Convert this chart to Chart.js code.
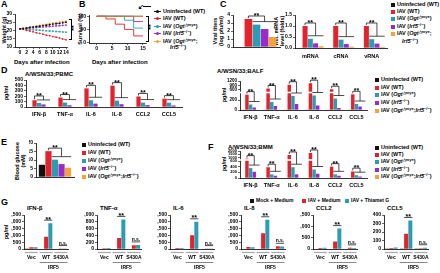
<!DOCTYPE html>
<html>
<head>
<meta charset="utf-8">
<script src="https://cdn.jsdelivr.net/npm/chart.js@4.4.1/dist/chart.umd.min.js"></script>
<style>
  body { margin: 0; width: 440px; height: 273px; position: relative; overflow: hidden; background: #fff;
         font-family: "Liberation Sans", Arial, sans-serif; font-weight: bold; color: #000; }
  .t { position: absolute; white-space: nowrap; font-size: 5.5px; line-height: 6px; }
  .p { position: absolute; font-size: 9px; line-height: 9px; }
  .h { position: absolute; white-space: nowrap; font-size: 6px; line-height: 6px; }
  .r { position: absolute; white-space: nowrap; font-size: 5.5px; line-height: 6px; text-align: center;
       transform: translate(-50%, -50%) rotate(-90deg); }
  sup { font-size: 4px; vertical-align: 2px; line-height: 0; }
  .sq { display: inline-block; width: 4px; height: 4px; margin-right: 2px; vertical-align: -0.5px; }
  .ln { display: inline-block; width: 7px; height: 0; border-top: 0.8px solid; position: relative; vertical-align: middle; margin-right: 2px; }
  .ln i { position: absolute; left: 2px; top: -2px; width: 3px; height: 3px; border-radius: 50%; }
  canvas { position: absolute; }
</style>
</head>
<body>
<script>
// series colours and names (same five groups across panels)
const COLORS = ['#111111', '#e3222b', '#2a9db3', '#9b2bc9', '#f2a33c'];
const NAMES = ['Uninfected (WT)', 'IAV (WT)', 'IAV (<i>Ogt</i><sup>△mye</sup>)', 'IAV (<i>Irf5</i><sup>−/−</sup>)',
               'IAV (<i>Ogt</i><sup>△mye</sup>;<i>Irf5</i><sup>−/−</sup>)'];

// A - body weight
const WEIGHT_DAYS = [0, 1, 2, 3, 4, 5, 6, 7, 8, 9, 10, 11, 12, 13, 14];
const WEIGHT_UNINF = [21, 21.2, 21.5, 21.9, 22.1, 22.4, 22.6, 23.0, 23.2, 23.5, 23.9, 24.1, 24.3, 24.7, 25.0];
const WEIGHT_WT = [21, 20.7, 20.1, 19.7, 19.2, 18.6, 18.3, 17.8, 17.2, 16.9, 16.3, 15.9, 15.5, 14.9, 14.4];
const WEIGHT_OGT = [21, 20.9, 20.7, 20.6, 20.4, 20.3, 20.2, 20.0, 19.8, 19.7, 19.6, 19.4, 19.3, 19.1, 19.0];
const WEIGHT_IRF5 = [21, 21.1, 21.3, 21.5, 21.6, 21.8, 22.0, 22.1, 22.3, 22.4, 22.6, 22.8, 22.9, 23.1, 23.3];
const WEIGHT_DKO = [21, 21.3, 21.7, 22.0, 22.3, 22.7, 23.1, 23.4, 23.7, 24.1, 24.4, 24.8, 25.1, 25.4, 25.7];
const WEIGHT_XTICKS = [0, 2, 4, 6, 8, 10, 12, 14];

// B - survival (event days and percent)
const SURV_UNINF_D = [0, 15], SURV_UNINF = [100, 100];
const SURV_WT_D = [0, 3, 6, 9, 12, 15], SURV_WT = [100, 90, 70, 50, 25, 25];
const SURV_OGT_D = [0, 9, 12, 15], SURV_OGT = [100, 85, 55, 55];
const SURV_IRF5_D = [0, 12, 15], SURV_IRF5 = [100, 80, 80];
const SURV_DKO_D = [0, 15], SURV_DKO = [100, 100];
const SURV_XTICKS = [0, 5, 10, 15];
const SURV_YTICKS = [0, 50, 100];

// C - viral titers and viral RNA
const VIRAL_TITER = [0, 3.5, 2.8, 2.25, 1.25];
const RNA_TYPES = ['mRNA', 'cRNA', 'vRNA'];
const RNA_UNINF = [0, 0, 0];
const RNA_WT = [1.0, 1.0, 1.0];
const RNA_OGT = [0.42, 0.38, 0.40];
const RNA_IRF5 = [0.21, 0.18, 0.20];
const RNA_DKO = [0.08, 0.06, 0.05];

// D - cytokines
const CYTOKINES = ['IFN-β', 'TNF-α', 'IL-6', 'IL-8', 'CCL2', 'CCL5'];
const PBMC_UNINF = [5, 5, 5, 5, 5, 5];
const PBMC_WT = [125, 175, 345, 395, 195, 155];
const PBMC_OGT = [75, 82, 125, 118, 82, 80];
const PBMC_IRF5 = [48, 32, 62, 52, 35, 28];
const PBMC_DKO = [5, 4, 5, 5, 4, 4];

const BALF_UNINF = [8, 8, 8, 8, 8, 8];
const BALF_WT = [320, 700, 950, 1050, 650, 340];
const BALF_OGT = [110, 160, 280, 290, 230, 120];
const BALF_IRF5 = [50, 80, 120, 90, 40, 70];
const BALF_DKO = [8, 8, 8, 8, 8, 8];
const BALF_TICKS = [0, 200, 600, 900, 1200];

// E - blood glucose
const GLUCOSE = [7.2, 15.2, 10.2, 7.6, 5.4];

// F - BMM cytokines
const BMM_UNINF = [10, 10, 10, 10, 10, 10];
const BMM_WT = [850, 380, 1400, 1700, 400, 230];
const BMM_OGT = [350, 130, 380, 300, 130, 100];
const BMM_IRF5 = [220, 80, 130, 150, 80, 50];
const BMM_DKO = [10, 10, 10, 10, 10, 10];
const BMM_TICKS = [0, 200, 400, 600, 1000, 1500, 2000];

// G - IRF5 constructs with Thiamet G
const G_GROUPS = ['Vec', 'WT', 'S430A'];
const G_TREAT = ['Mock + Medium', 'IAV + Medium', 'IAV + Thiamet G'];
const G_TITLES = ['IFN-β', 'TNF-α', 'IL-6', 'IL-8', 'CCL2', 'CCL5'];
const G_MOCK = [[30, 20, 20], [10, 10, 10], [20, 20, 20], [20, 20, 20], [10, 10, 10], [5, 5, 5]];
const G_MEDIUM = [[120, 900, 40], [25, 320, 110], [70, 1020, 30], [140, 1150, 200], [40, 330, 50], [12, 180, 10]];
const G_THIAMET = [[120, 1900, 40], [30, 870, 120], [70, 2000, 30], [120, 2150, 180], [50, 900, 40], [18, 335, 15]];
const G_MAX = [2500, 1000, 2500, 2500, 1500, 400];
const G_STEP = [500, 200, 500, 500, 500, 100];

// ---------- helpers ----------
Chart.defaults.font.family = '"Liberation Sans", Arial, sans-serif';
Chart.defaults.font.weight = 'bold';
Chart.defaults.font.size = 5.5;
Chart.defaults.color = '#000';
Chart.defaults.animation = false;
Chart.defaults.plugins.legend.display = false;
Chart.defaults.plugins.tooltip.enabled = false;

// white gap across tall bars for broken axes
Chart.register({
  id: 'brk',
  afterDatasetsDraw(chart, args, o) {
    if (!o || o.at == null) return;
    const ca = chart.chartArea, y = chart.scales.y.getPixelForValue(o.at);
    chart.ctx.save();
    chart.ctx.fillStyle = '#fff';
    chart.ctx.fillRect(ca.left - 3, y - 0.8, ca.right - ca.left + 3, 1.6);
    chart.ctx.restore();
  }
});

// significance brackets
Chart.register({
  id: 'sig',
  afterDatasetsDraw(chart, args, o) {
    if (!o || !o.groups) return;
    const ctx = chart.ctx;
    const bar = (k, i) => chart.getDatasetMeta(k).data[i];
    const seg = pts => { ctx.beginPath(); ctx.moveTo(pts[0], pts[1]); for (let j = 2; j < pts.length; j += 2) ctx.lineTo(pts[j], pts[j + 1]); ctx.stroke(); };
    ctx.save();
    ctx.strokeStyle = '#000'; ctx.fillStyle = '#000'; ctx.lineWidth = 0.7; ctx.textAlign = 'center';
    o.groups.forEach((i, n) => {
      if (o.mode === 'pair') {
        const a = bar(1, i), b = bar(2, i);
        const y = Math.min(a.y, b.y) - 3;
        seg([a.x - a.width / 2, y, b.x + b.width / 2, y]);
        const lab = o.labels[n];
        ctx.font = lab === '**' ? 'bold 7px "Liberation Sans"' : 'bold 5px "Liberation Sans"';
        ctx.fillText(lab, (a.x + b.x) / 2, lab === '**' ? y + 1.5 : y - 0.8);
      } else {
        const r = bar(1, i), t = bar(2, i), p = bar(3, i), q = bar(4, i);
        const yLow = Math.min(t.y, p.y) - 3;
        const yTop = Math.min(r.y - 3, yLow - 4);
        const xr = (t.x + q.x) / 2;
        seg([r.x, r.y - 1, r.x, yTop, xr, yTop, xr, yLow]);
        seg([t.x - t.width / 2, yLow, q.x + q.width / 2, yLow]);
        ctx.font = 'bold 7px "Liberation Sans"';
        ctx.fillText('**', (r.x + xr) / 2, yTop + 2);
      }
    });
    ctx.restore();
  }
});

// group lines and IRF5 label under panel G
Chart.register({
  id: 'irf',
  afterDraw(chart, args, o) {
    if (!o || !o.label) return;
    const xs = chart.scales.x, ca = chart.chartArea, ctx = chart.ctx;
    const step = (ca.right - ca.left) / xs.ticks.length;
    ctx.save();
    ctx.strokeStyle = '#a8a8a8'; ctx.lineWidth = 1.2;
    for (let i = 0; i < xs.ticks.length; i++) {
      const x = xs.getPixelForValue(i);
      ctx.beginPath(); ctx.moveTo(x - step * 0.44, ca.bottom + 3.5); ctx.lineTo(x + step * 0.44, ca.bottom + 3.5); ctx.stroke();
    }
    const x1 = xs.getPixelForValue(1), x2 = xs.getPixelForValue(2);
    ctx.strokeStyle = '#555'; ctx.lineWidth = 0.7;
    ctx.beginPath(); ctx.moveTo(x1 - step * 0.44, ca.bottom + 13.5); ctx.lineTo(x2 + step * 0.44, ca.bottom + 13.5); ctx.stroke();
    ctx.fillStyle = '#000'; ctx.font = 'bold 5px "Liberation Sans"'; ctx.textAlign = 'center'; ctx.textBaseline = 'top';
    ctx.fillText(o.label, (x1 + x2) / 2, ca.bottom + 16);
    ctx.restore();
  }
});

function addDiv(html, x, y, cls) {
  const d = document.createElement('div');
  d.className = cls; d.innerHTML = html;
  d.style.left = x + 'px'; d.style.top = y + 'px';
  document.body.appendChild(d);
  return d;
}

// rows: [html, colour or null], ys: centre of each row
function legend(x, ys, rows, marker) {
  rows.forEach((row, k) => {
    let mk = '';
    if (row[1] && marker === 'line') mk = `<span class="ln" style="border-color:${row[1]}"><i style="background:${row[1]}"></i></span>`;
    else if (row[1]) mk = `<span class="sq" style="background:${row[1]}"></span>`;
    const d = addDiv(mk + row[0], x, ys[k] - 3, 't');
    if (!row[1]) d.style.left = (x + (marker === 'line' ? 16 : 11)) + 'px';
  });
}

function yAxis(min, max, step, extra) {
  return Object.assign({
    type: 'linear', min, max,
    ticks: { stepSize: step, padding: 1, font: { size: 5 }, autoSkip: false },
    grid: { drawOnChartArea: false, tickLength: 2, color: '#000', lineWidth: 0.6 },
    border: { color: '#000', width: 0.8 }
  }, extra || {});
}

function xCat(pad, size) {
  return {
    type: 'category',
    grid: { display: false, drawTicks: false },
    border: { color: '#000', width: 0.8 },
    ticks: { padding: pad, font: { size: size || 5.5 }, maxRotation: 0, autoSkip: false }
  };
}

function barSets(series) {
  return series.map((v, k) => ({ data: v, backgroundColor: COLORS[k], borderWidth: 0, categoryPercentage: 0.86, barPercentage: 0.95 }));
}

// piecewise map for broken axes: knots [[value, display], ...]
function brokenMap(knots) {
  return v => {
    for (let i = 1; i < knots.length; i++) {
      if (v <= knots[i][0] || i === knots.length - 1) {
        const [v0, d0] = knots[i - 1], [v1, d1] = knots[i];
        return d0 + (v - v0) * (d1 - d0) / (v1 - v0);
      }
    }
  };
}

// box = chart area in page pixels
function makeChart(box, o) {
  const padTop = o.padTop, yw = o.yw, xh = o.xh;
  const c = document.createElement('canvas');
  c.width = box.r - box.l + yw + 3;
  c.height = box.b - box.t + padTop + xh;
  c.style.left = (box.l - yw) + 'px';
  c.style.top = (box.t - padTop) + 'px';
  document.body.appendChild(c);
  o.x.afterFit = s => { s.height = xh; };
  o.y.afterFit = s => { s.width = yw; };
  return new Chart(c, {
    type: o.type,
    data: o.data,
    options: {
      responsive: false, devicePixelRatio: 1,
      layout: { padding: { top: padTop, right: 3, left: 0, bottom: 0 } },
      scales: { x: o.x, y: o.y },
      plugins: o.plugins || {}
    }
  });
}

// ---------- text ----------
[['A', 1, 0], ['B', 79, 0], ['C', 220, 0], ['D', 1, 66], ['E', 1, 138], ['F', 208, 143], ['G', 1, 198]]
  .forEach(p => addDiv(p[0], p[1], p[2], 'p'));

addDiv('Weight (g)', 4, 30, 'r');
addDiv('Survival (%)', 80, 29, 'r');
addDiv('Viral titers<br>(log pfu/ml)', 218, 31, 'r');
addDiv('Rel. mRNA<br>level (folds)', 279, 31, 'r');
addDiv('pg/ml', 6, 93, 'r');
addDiv('pg/ml', 224, 95, 'r');
addDiv('Blood glucose<br>(mM)', 20, 161, 'r');
addDiv('pg/ml', 224, 164, 'r');
addDiv('pg/ml', 6, 232, 'r');

addDiv('Days after infection', 14, 59, 'h');
addDiv('Days after infection', 92, 59, 'h');
addDiv('A/WSN/33;PBMC', 25, 71, 'h');
addDiv('A/WSN/33;BALF', 217, 68, 'h');
addDiv('A/WSN/33;BMM', 228, 144, 'h');

// A and B side brackets
const brA = addDiv('', 69, 19, 't'); brA.style.cssText += 'width:2px;height:19px;border:0.7px solid #000;border-left:none;';
addDiv('**', 74, 28, 'r').style.fontSize = '7px';
const brB = addDiv('', 146, 16, 't'); brB.style.cssText += 'width:2px;height:24px;border:0.7px solid #000;border-left:none;';
addDiv('**', 151, 27, 'r').style.fontSize = '7px';
addDiv('↙', 138, 4, 't').style.fontSize = '7px';
const brB2 = addDiv('', 143, 6, 't'); brB2.style.cssText += 'width:8px;height:0;border-top:0.8px solid #000;';

// legends
legend(154, [11, 18, 26, 33, 41, 47], [
  [NAMES[0], COLORS[0]], [NAMES[1], COLORS[1]], [NAMES[2], COLORS[2]], [NAMES[3], COLORS[3]],
  ['IAV (<i>Ogt</i><sup>△mye</sup>;', COLORS[4]], ['<i>Irf5</i><sup>−/−</sup>)', null]], 'line');
legend(391, [4, 11, 18, 26, 33, 41], [
  [NAMES[0], COLORS[0]], [NAMES[1], COLORS[1]], [NAMES[2], COLORS[2]], [NAMES[3], COLORS[3]],
  ['IAV (<i>Ogt</i><sup>△mye</sup>;', COLORS[4]], ['<i>Irf5</i><sup>−/−</sup>)', null]], 'sq');
const fullRows = NAMES.map((n, k) => [n, COLORS[k]]);
legend(375, [79, 87, 94, 102, 110], fullRows, 'sq');
legend(82, [144, 152, 160, 168, 176], fullRows, 'sq');
legend(375, [147, 154, 161, 169, 176], fullRows, 'sq');
G_TREAT.forEach((n, k) => {
  const d = addDiv(`<span class="sq" style="background:${COLORS[k]}"></span>${n}`, [250, 302, 345][k], 197, 't');
  d.style.fontSize = '5px';
});

// ---------- A: weight ----------
const weightSeries = [WEIGHT_UNINF, WEIGHT_WT, WEIGHT_OGT, WEIGHT_IRF5, WEIGHT_DKO];
makeChart({ l: 15, t: 13, r: 68, b: 47 }, {
  type: 'line', padTop: 3, yw: 9, xh: 8,
  data: {
    datasets: weightSeries.map((s, k) => ({
      data: s.map((v, i) => ({ x: WEIGHT_DAYS[i], y: v })),
      borderColor: COLORS[k], backgroundColor: COLORS[k], borderWidth: 0.7, borderDash: [1.5, 1],
      pointRadius: 0.9, pointBorderWidth: 0
    }))
  },
  x: {
    type: 'linear', min: -1.5, max: 14.3,
    afterBuildTicks: s => { s.ticks = WEIGHT_XTICKS.map(v => ({ value: v })); },
    ticks: { padding: 1, font: { size: 5 }, autoSkip: false, maxRotation: 0 },
    grid: { drawOnChartArea: false, tickLength: 2, color: '#000', lineWidth: 0.6 },
    border: { color: '#000', width: 0.8 }
  },
  y: yAxis(10, 30, 5)
});

// ---------- B: survival ----------
const survSeries = [[SURV_UNINF_D, SURV_UNINF], [SURV_WT_D, SURV_WT], [SURV_OGT_D, SURV_OGT], [SURV_IRF5_D, SURV_IRF5], [SURV_DKO_D, SURV_DKO]];
makeChart({ l: 89, t: 14, r: 146, b: 43 }, {
  type: 'line', padTop: 3, yw: 10, xh: 8,
  data: {
    datasets: survSeries.map((s, k) => ({
      data: s[0].map((d, i) => ({ x: d, y: s[1][i] })),
      borderColor: COLORS[k], borderWidth: 0.9, pointRadius: 0, stepped: true, order: k === 4 ? -1 : k
    }))
  },
  x: {
    type: 'linear', min: -2.5, max: 16,
    afterBuildTicks: s => { s.ticks = SURV_XTICKS.map(v => ({ value: v })); },
    ticks: { padding: 1, font: { size: 5 }, autoSkip: false, maxRotation: 0 },
    grid: { drawOnChartArea: false, tickLength: 2, color: '#000', lineWidth: 0.6 },
    border: { color: '#000', width: 0.8 }
  },
  y: yAxis(-2, 105, 50, { afterBuildTicks: s => { s.ticks = SURV_YTICKS.map(v => ({ value: v })); } })
});

// ---------- C: viral titers ----------
makeChart({ l: 233, t: 15, r: 280, b: 48 }, {
  type: 'bar', padTop: 10, yw: 6, xh: 3,
  data: { labels: [''], datasets: barSets(VIRAL_TITER.map(v => [v])) },
  x: xCat(0), y: yAxis(0, 4, 1),
  plugins: { sig: { mode: 'bracket', groups: [0] } }
});

makeChart({ l: 295, t: 15, r: 387, b: 48 }, {
  type: 'bar', padTop: 6, yw: 10, xh: 11,
  data: { labels: RNA_TYPES, datasets: barSets([RNA_UNINF, RNA_WT, RNA_OGT, RNA_IRF5, RNA_DKO]) },
  x: xCat(5), y: yAxis(0, 1.5, 0.5, { ticks: { stepSize: 0.5, padding: 1, font: { size: 5 }, autoSkip: false, callback: v => v.toFixed(1) } }),
  plugins: { sig: { mode: 'bracket', groups: [0, 1, 2] } }
});

// ---------- D: PBMC and BALF ----------
makeChart({ l: 26, t: 80, r: 182, b: 107 }, {
  type: 'bar', padTop: 6, yw: 11, xh: 10,
  data: { labels: CYTOKINES, datasets: barSets([PBMC_UNINF, PBMC_WT, PBMC_OGT, PBMC_IRF5, PBMC_DKO]) },
  x: xCat(4), y: yAxis(0, 500, 100),
  plugins: { sig: { mode: 'bracket', groups: [0, 1, 2, 3, 4, 5] } }
});

const balfMap = brokenMap([[0, 0], [300, 15], [600, 20], [1200, 29]]);
makeChart({ l: 240, t: 81, r: 367, b: 110 }, {
  type: 'bar', padTop: 6, yw: 13, xh: 10,
  data: { labels: CYTOKINES, datasets: barSets([BALF_UNINF, BALF_WT, BALF_OGT, BALF_IRF5, BALF_DKO].map(s => s.map(balfMap))) },
  x: xCat(4),
  y: yAxis(0, 29, 5, {
    afterBuildTicks: s => { s.ticks = BALF_TICKS.map(v => ({ value: balfMap(v) })); },
    ticks: { padding: 1, font: { size: 4.5 }, autoSkip: false, callback: (v, i) => BALF_TICKS[i] }
  }),
  plugins: { brk: { at: balfMap(450) }, sig: { mode: 'bracket', groups: [0, 1, 2, 3, 4, 5] } }
});

// ---------- E: blood glucose ----------
makeChart({ l: 36, t: 143, r: 74, b: 178 }, {
  type: 'bar', padTop: 8, yw: 7, xh: 3,
  data: { labels: [''], datasets: barSets(GLUCOSE.map(v => [v])) },
  x: xCat(0), y: yAxis(0, 20, 5),
  plugins: { sig: { mode: 'bracket', groups: [0] } }
});

// ---------- F: BMM ----------
const bmmMap = brokenMap([[0, 0], [600, 17], [800, 19], [2000, 27]]);
makeChart({ l: 240, t: 151, r: 367, b: 178 }, {
  type: 'bar', padTop: 6, yw: 13, xh: 10,
  data: { labels: CYTOKINES, datasets: barSets([BMM_UNINF, BMM_WT, BMM_OGT, BMM_IRF5, BMM_DKO].map(s => s.map(bmmMap))) },
  x: xCat(4),
  y: yAxis(0, 27, 5, {
    afterBuildTicks: s => { s.ticks = BMM_TICKS.map(v => ({ value: bmmMap(v) })); },
    ticks: { padding: 1, font: { size: 4 }, autoSkip: false, callback: (v, i) => BMM_TICKS[i] }
  }),
  plugins: { brk: { at: bmmMap(700) }, sig: { mode: 'bracket', groups: [0, 1, 2, 3, 4, 5] } }
});

// ---------- G: six small panels ----------
const G_LEFT = [24, 97, 170, 241, 313, 384];
G_TITLES.forEach((title, g) => {
  addDiv(title, G_LEFT[g] + 3, 205, 'h');
  makeChart({ l: G_LEFT[g], t: 215, r: G_LEFT[g] + 48, b: 249 }, {
    type: 'bar', padTop: 5, yw: 13, xh: 24,
    data: { labels: G_GROUPS, datasets: barSets([G_MOCK[g], G_MEDIUM[g], G_THIAMET[g]]) },
    x: xCat(6, 5), y: yAxis(0, G_MAX[g], G_STEP[g]),
    plugins: { sig: { mode: 'pair', groups: [1, 2], labels: ['**', 'n.s.'] }, irf: { label: 'IRF5' } }
  });
});
</script>
</body>
</html>
